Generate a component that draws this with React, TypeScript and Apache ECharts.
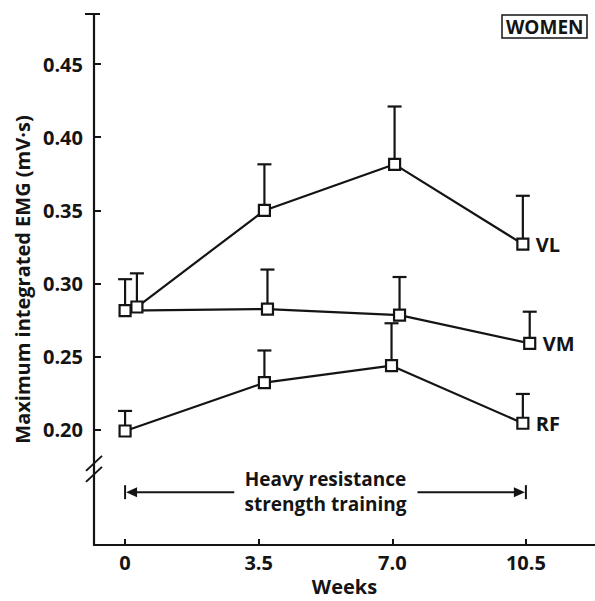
import React, { useEffect, useRef } from "react";
import * as echarts from "echarts";

const FONT = "Open Sans";
const INK = "#141414";
const FS = 20;

// Plotted week positions (points at a given week are slightly offset in the figure)
const vlWeeks = [0.31, 3.65, 7.06, 10.42];
const vmWeeks = [0, 3.73, 7.19, 10.6];
const rfWeeks = [0, 3.65, 6.98, 10.42];

// Mean maximum integrated EMG (mV·s)
const vlMeans = [0.284, 0.35, 0.3815, 0.327];
const vmMeans = [0.2815, 0.2826, 0.2785, 0.2592];
const rfMeans = [0.1993, 0.2323, 0.2439, 0.2046];

// Upper error bars (SE)
const vlErr = [0.023, 0.0315, 0.0395, 0.033];
const vmErr = [0.0215, 0.027, 0.026, 0.0216];
const rfErr = [0.0137, 0.022, 0.029, 0.02];

const seriesNames = ["VL", "VM", "RF"];

const xTicks = [0, 3.5, 7.0, 10.5];
const xTickLabels = ["0", "3.5", "7.0", "10.5"];
const yTicks = [0.2, 0.25, 0.3, 0.35, 0.4, 0.45];
const yTickLabels = ["0.20", "0.25", "0.30", "0.35", "0.40", "0.45"];

const X_MIN = -0.814;
const X_MAX = 12.31;
const Y_MIN = 0.1214;
const Y_MAX = 0.4842;

const BREAK_Y = 0.1734;
const ARROW_Y = 0.1575;
const ARROW_START = 0;
const ARROW_END = 10.5;
const ARROW_GAP_LEFT = 2.86;
const ARROW_GAP_RIGHT = 7.66;
const ANNOT_X = 5.25;
const annotText = "Heavy resistance\nstrength training";

function pairs(xs: number[], ys: number[]) {
  return xs.map((x, i) => [x, ys[i]]);
}

function errData(xs: number[], ys: number[], es: number[]) {
  return xs.map((x, i) => [x, ys[i], ys[i] + es[i]]);
}

export default function App() {
  const ref = useRef<HTMLDivElement>(null);

  useEffect(() => {
    if (!ref.current) return;
    const chart = echarts.init(ref.current, undefined, { renderer: "svg" });

    const lineSeries = (name: string, data: number[][]) => ({
      type: "line",
      name,
      data,
      z: 3,
      symbol: "rect",
      symbolSize: 11,
      itemStyle: { color: "#fff", borderColor: INK, borderWidth: 2.2 },
      lineStyle: { color: INK, width: 2.2 },
      endLabel: {
        show: true,
        formatter: name,
        distance: 13,
        fontFamily: FONT,
        fontWeight: "bold",
        fontSize: FS,
        color: INK,
      },
    });

    const errSeries = (data: number[][]) => ({
      type: "custom",
      z: 2,
      data,
      renderItem: (params: any, api: any) => {
        const p0 = api.coord([api.value(0), api.value(1)]);
        const p1 = api.coord([api.value(0), api.value(2)]);
        return {
          type: "group",
          children: [
            {
              type: "line",
              shape: { x1: p0[0], y1: p0[1], x2: p1[0], y2: p1[1] },
              style: { stroke: INK, lineWidth: 2.2 },
            },
            {
              type: "line",
              shape: { x1: p1[0] - 7, y1: p1[1], x2: p1[0] + 7, y2: p1[1] },
              style: { stroke: INK, lineWidth: 2.2 },
            },
          ],
        };
      },
    });

    chart.setOption({
      animation: false,
      backgroundColor: "#fff",
      title: {
        text: "WOMEN",
        left: 502,
        top: 15,
        padding: [1, 4, 0, 4],
        borderColor: INK,
        borderWidth: 1.5,
        textStyle: {
          fontFamily: FONT,
          fontWeight: "bold",
          fontSize: 19,
          lineHeight: 22,
          color: INK,
        },
      },
      grid: { left: 94, right: 0, top: 14, bottom: 56, containLabel: false, outerBoundsMode: "none" },
      xAxis: {
        type: "value",
        min: X_MIN,
        max: X_MAX,
        name: "Weeks",
        nameLocation: "middle",
        nameGap: 31,
        nameTextStyle: { fontFamily: FONT, fontWeight: "bold", fontSize: FS, lineHeight: 20, color: INK },
        axisLine: { onZero: false, lineStyle: { color: INK, width: 2.2 } },
        axisTick: { inside: true, length: 6, customValues: xTicks, lineStyle: { color: INK, width: 2 } },
        axisLabel: {
          customValues: xTicks,
          margin: 7,
          fontFamily: FONT,
          fontWeight: "bold",
          fontSize: FS,
          color: INK,
          formatter: (v: number) => {
            const i = xTicks.findIndex((t) => Math.abs(t - v) < 1e-6);
            return i >= 0 ? xTickLabels[i] : "";
          },
        },
        splitLine: { show: false },
      },
      yAxis: {
        type: "value",
        min: Y_MIN,
        max: Y_MAX,
        name: "Maximum integrated EMG (mV·s)",
        nameLocation: "middle",
        nameGap: 62,
        nameTextStyle: { fontFamily: FONT, fontWeight: "bold", fontSize: FS, color: INK },
        axisLine: { show: true, onZero: false, lineStyle: { color: INK, width: 2.2 } },
        axisTick: { show: true, inside: true, length: 7, customValues: yTicks, lineStyle: { color: INK, width: 2 } },
        axisLabel: {
          customValues: yTicks,
          margin: 11,
          fontFamily: FONT,
          fontWeight: "bold",
          fontSize: FS,
          color: INK,
          formatter: (v: number) => {
            const i = yTicks.findIndex((t) => Math.abs(t - v) < 1e-6);
            return i >= 0 ? yTickLabels[i] : "";
          },
        },
        splitLine: { show: false },
      },
      series: [
        errSeries(errData(vlWeeks, vlMeans, vlErr)),
        errSeries(errData(vmWeeks, vmMeans, vmErr)),
        errSeries(errData(rfWeeks, rfMeans, rfErr)),
        lineSeries(seriesNames[0], pairs(vlWeeks, vlMeans)),
        lineSeries(seriesNames[1], pairs(vmWeeks, vmMeans)),
        lineSeries(seriesNames[2], pairs(rfWeeks, rfMeans)),
      ],
    });

    const px = (x: number, y: number) => chart.convertToPixel({ gridIndex: 0 }, [x, y]) as number[];
    const axisX = px(X_MIN, Y_MAX)[0];
    const topY = px(X_MIN, Y_MAX)[1];
    const brk = px(X_MIN, BREAK_Y);
    const a0 = px(ARROW_START, ARROW_Y);
    const a1 = px(ARROW_END, ARROW_Y);
    const g0 = px(ARROW_GAP_LEFT, ARROW_Y);
    const g1 = px(ARROW_GAP_RIGHT, ARROW_Y);
    const tc = px(ANNOT_X, ARROW_Y);
    const stroke = { stroke: INK, lineWidth: 2 };

    chart.setOption({
      graphic: [
        // top cap of y axis
        { type: "line", shape: { x1: axisX - 9, y1: topY, x2: axisX + 6, y2: topY }, style: stroke },
        // axis break
        { type: "rect", shape: { x: axisX - 3, y: brk[1] - 6, width: 6, height: 12 }, style: { fill: "#fff" } },
        { type: "line", shape: { x1: axisX - 8, y1: brk[1] + 2, x2: axisX + 8, y2: brk[1] - 13 }, style: stroke },
        { type: "line", shape: { x1: axisX - 8, y1: brk[1] + 13, x2: axisX + 8, y2: brk[1] - 2 }, style: stroke },
        // arrow left
        { type: "line", shape: { x1: a0[0], y1: a0[1] - 7, x2: a0[0], y2: a0[1] + 7 }, style: stroke },
        { type: "polygon", shape: { points: [[a0[0] + 1, a0[1]], [a0[0] + 12, a0[1] - 5], [a0[0] + 12, a0[1] + 5]] }, style: { fill: INK } },
        { type: "line", shape: { x1: a0[0] + 10, y1: a0[1], x2: g0[0], y2: g0[1] }, style: stroke },
        // arrow right
        { type: "line", shape: { x1: a1[0], y1: a1[1] - 7, x2: a1[0], y2: a1[1] + 7 }, style: stroke },
        { type: "polygon", shape: { points: [[a1[0] - 1, a1[1]], [a1[0] - 12, a1[1] - 5], [a1[0] - 12, a1[1] + 5]] }, style: { fill: INK } },
        { type: "line", shape: { x1: g1[0], y1: g1[1], x2: a1[0] - 10, y2: a1[1] }, style: stroke },
        // annotation text
        {
          type: "text",
          x: tc[0],
          y: tc[1] - 1,
          style: {
            text: annotText,
            align: "center",
            verticalAlign: "middle",
            fontFamily: FONT,
            fontWeight: "bold",
            fontSize: 19,
            lineHeight: 25,
            fill: INK,
          },
        },
      ],
    });

    return () => chart.dispose();
  }, []);

  return <div ref={ref} style={{ position: "absolute", left: 0, top: 0, width: 595, height: 601 }} />;
}
